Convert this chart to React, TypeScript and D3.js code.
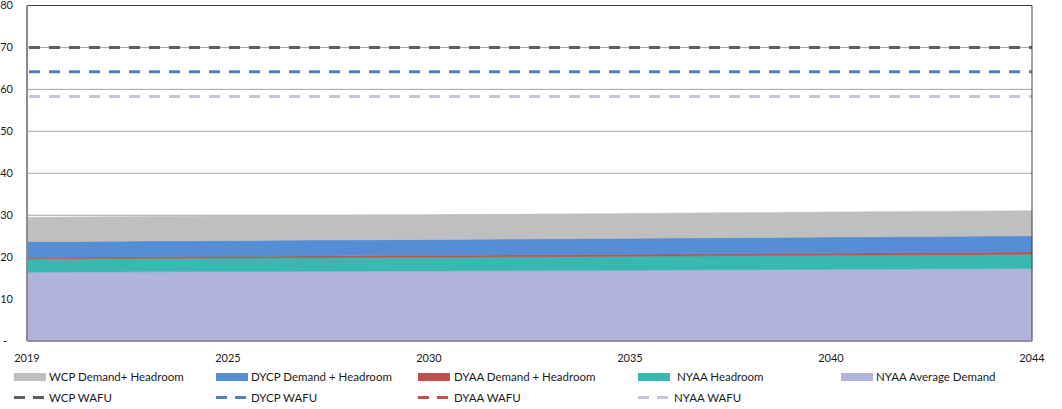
import React from "react";
import * as d3 from "d3";

const years = [2019, 2020, 2021, 2022, 2023, 2024, 2025, 2026, 2027, 2028, 2029, 2030, 2031, 2032, 2033, 2034, 2035, 2036, 2037, 2038, 2039, 2040, 2041, 2042, 2043, 2044];
const xTickIdx = [0, 5, 10, 15, 20, 25];
const xTickLabels = ["2019", "2025", "2030", "2035", "2040", "2044"];
const yTicks = [0, 10, 20, 30, 40, 50, 60, 70, 80];
const yTickLabels = ["-", "10", "20", "30", "40", "50", "60", "70", "80"];

const nyaaAvgDemand = [16.4, 16.43, 16.46, 16.49, 16.52, 16.55, 16.58, 16.61, 16.64, 16.67, 16.7, 16.73, 16.76, 16.8, 16.84, 16.88, 16.92, 16.96, 17.0, 17.04, 17.08, 17.12, 17.16, 17.2, 17.24, 17.28];
const nyaaHeadroom = [3.2, 3.2, 3.21, 3.22, 3.23, 3.24, 3.25, 3.26, 3.26, 3.27, 3.28, 3.29, 3.3, 3.31, 3.32, 3.32, 3.33, 3.34, 3.35, 3.36, 3.36, 3.37, 3.38, 3.39, 3.39, 3.4];
const dyaaDemandHeadroom = [0.35, 0.36, 0.37, 0.38, 0.38, 0.39, 0.4, 0.41, 0.42, 0.42, 0.43, 0.44, 0.45, 0.46, 0.46, 0.47, 0.48, 0.49, 0.5, 0.5, 0.51, 0.52, 0.53, 0.54, 0.54, 0.55];
const dycpDemandHeadroom = [3.75, 3.75, 3.76, 3.76, 3.77, 3.77, 3.78, 3.78, 3.79, 3.79, 3.8, 3.8, 3.8, 3.81, 3.81, 3.82, 3.82, 3.83, 3.83, 3.83, 3.84, 3.84, 3.84, 3.85, 3.85, 3.85];
const wcpDemandHeadroom = [5.8, 5.81, 5.82, 5.82, 5.83, 5.84, 5.85, 5.86, 5.86, 5.87, 5.88, 5.89, 5.9, 5.9, 5.91, 5.92, 5.93, 5.94, 5.94, 5.95, 5.96, 5.97, 5.98, 5.98, 5.99, 6.0];

const wcpWafu = 70;
const dycpWafu = 64.2;
const dyaaWafu = 70;
const nyaaWafu = 58.3;

const areaNames = ["NYAA Average Demand", "NYAA Headroom", "DYAA Demand + Headroom", "DYCP Demand + Headroom", "WCP Demand+ Headroom"];
const areaSeries = [nyaaAvgDemand, nyaaHeadroom, dyaaDemandHeadroom, dycpDemandHeadroom, wcpDemandHeadroom];
const areaColors = ["#b1b3db", "#37b9b1", "#c0504d", "#558ed5", "#bfbfbf"];

const lineNames = ["WCP WAFU", "DYCP WAFU", "DYAA WAFU", "NYAA WAFU"];
const lineValues = [wcpWafu, dycpWafu, dyaaWafu, nyaaWafu];
const lineColors = ["#5f5f5f", "#4f81bd", "#c0504d", "#ccc1da"];

const W = 1062;
const H = 409;
const font = "Lato, 'Open Sans', sans-serif";

export default function App() {
  const x = d3.scaleLinear().domain([0, years.length - 1]).range([27, 1032]);
  const y = d3.scaleLinear().domain([0, 80]).range([341, 5.5]);

  const rows = years.map((yr, i) => {
    const r: any = { i };
    areaNames.forEach((n, k) => (r[n] = areaSeries[k][i]));
    return r;
  });
  const stacked = d3.stack().keys(areaNames)(rows);
  const area = d3
    .area<any>()
    .x((d) => x(d.data.i))
    .y0((d) => y(d[0]))
    .y1((d) => y(d[1]));

  // legend layout
  const legendAreaOrder = [4, 3, 2, 1, 0];
  const legendAreaX = [14, 216, 418, 638, 841];
  const legendAreaTextX = [49, 251, 454, 677, 876];
  const legendLineX = [14, 216, 418, 638];
  const legendLineTextX = [49, 251, 454, 674];

  return (
    <svg width={W} height={H} style={{ position: "fixed", left: 0, top: 0, background: "#fff" }} fontFamily={font}>
      <rect x={0} y={0} width={W} height={H} fill="#fff" />
      {/* gridlines */}
      {yTicks.map((t) => (
        <line key={"g" + t} x1={x(0)} x2={x(25)} y1={y(t)} y2={y(t)} stroke="#a6a6a6" strokeWidth={1} />
      ))}
      {/* areas */}
      {stacked.map((s, k) => (
        <path key={"a" + k} d={area(s as any) || ""} fill={areaColors[k]} stroke={areaColors[k]} strokeWidth={0.5} />
      ))}
      {/* dashed WAFU lines (drawn back to front) */}
      {[3, 2, 1, 0].map((k) => (
        <line
          key={"l" + k}
          x1={x(0)}
          x2={x(25)}
          y1={y(lineValues[k])}
          y2={y(lineValues[k])}
          stroke={lineColors[k]}
          strokeWidth={3}
          strokeDasharray="11 9"
          strokeDashoffset={-2}
        />
      ))}
      {/* frame */}
      <line x1={x(0)} x2={x(25)} y1={y(80)} y2={y(80)} stroke="#404040" strokeWidth={1} />
      <line x1={x(25)} x2={x(25)} y1={y(80)} y2={y(0)} stroke="#404040" strokeWidth={1} />
      <line x1={x(0)} x2={x(25)} y1={y(0)} y2={y(0)} stroke="#7f7f7f" strokeWidth={1.5} />
      <line x1={x(0)} x2={x(0)} y1={y(80)} y2={y(0)} stroke="#8c8c8c" strokeWidth={2} />
      {/* y labels */}
      {yTicks.map((t, i) =>
        t === 0 ? (
          <text key={"yl" + t} x={3} y={y(t)} dy="0.35em" fontSize={11} fill="#1a1a1a">
            {yTickLabels[i]}
          </text>
        ) : (
          <text key={"yl" + t} x={13} y={y(t)} dy="0.35em" fontSize={11} textAnchor="end" fill="#1a1a1a">
            {yTickLabels[i]}
          </text>
        )
      )}
      {/* x labels */}
      {xTickIdx.map((idx, i) => (
        <text key={"xl" + idx} x={x(idx)} y={358} dy="0.35em" fontSize={11} textAnchor="middle" fill="#1a1a1a">
          {xTickLabels[i]}
        </text>
      ))}
      {/* legend row 1 */}
      {legendAreaOrder.map((k, j) => (
        <g key={"la" + k}>
          <rect x={legendAreaX[j]} y={373} width={32} height={8} fill={areaColors[k]} />
          <text x={legendAreaTextX[j]} y={377} dy="0.35em" fontSize={11.5} fill="#1a1a1a">
            {areaNames[k]}
          </text>
        </g>
      ))}
      {/* legend row 2 */}
      {lineNames.map((n, k) => (
        <g key={"ll" + k}>
          <line x1={legendLineX[k]} x2={legendLineX[k] + 11} y1={397.5} y2={397.5} stroke={lineColors[k]} strokeWidth={3} />
          <line x1={legendLineX[k] + 19} x2={legendLineX[k] + 30} y1={397.5} y2={397.5} stroke={lineColors[k]} strokeWidth={3} />
          <text x={legendLineTextX[k]} y={397.5} dy="0.35em" fontSize={11.5} fill="#1a1a1a">
            {n}
          </text>
        </g>
      ))}
    </svg>
  );
}
